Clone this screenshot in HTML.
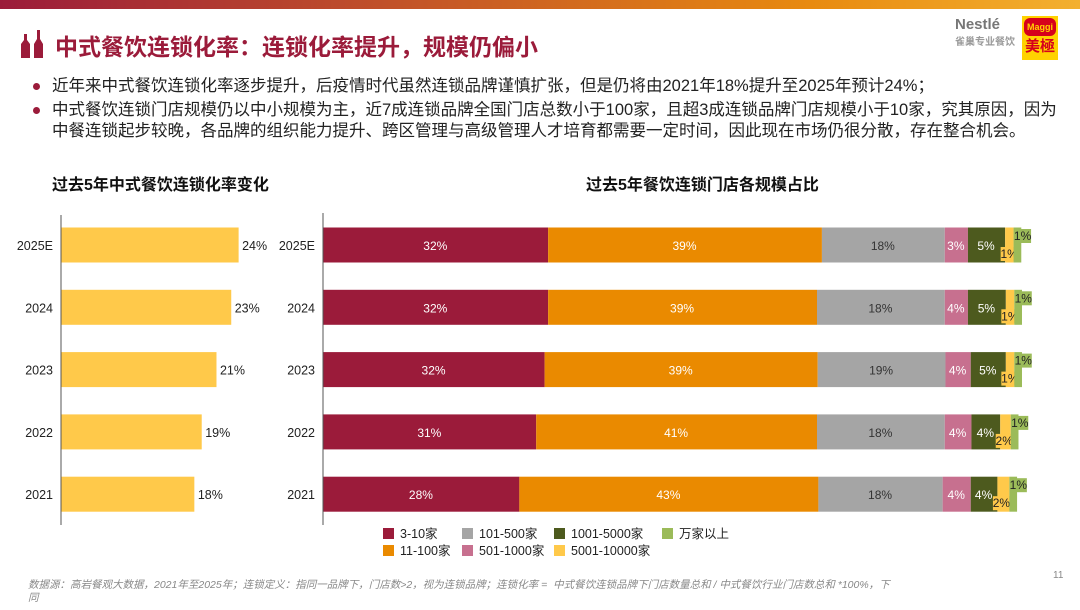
<!DOCTYPE html>
<html><head><meta charset="utf-8">
<style>
body{margin:0;width:1080px;height:610px;background:#fff;position:relative;overflow:hidden;font-family:"Liberation Sans","Noto Sans CJK SC",sans-serif;}
.topbar{position:absolute;left:0;top:0;width:1080px;height:9px;background:linear-gradient(90deg,#9b1b3a,#c0502a 35%,#e88a10 75%,#f3b030);}
.title{position:absolute;left:55px;top:28px;font-size:23px;font-weight:bold;color:#9b1b3a;}
.bullets{position:absolute;left:30px;top:76px;width:1040px;font-size:16.5px;color:#222;line-height:21px;}
.bullets div{position:relative;padding-left:22px;margin-bottom:3px;}
.bullets div:before{content:"";position:absolute;left:3px;top:7px;width:7px;height:7px;border-radius:50%;background:#9b1b3a;}
.ct{position:absolute;font-size:16px;font-weight:bold;color:#111;}
.foot{position:absolute;left:28px;top:579px;width:862px;font-size:10.5px;color:#888;font-style:italic;line-height:13px;}
</style></head><body>
<div class="topbar"></div>
<svg style="position:absolute;left:20px;top:28px" width="30" height="30">
<path d="M4 6h3v6l3 4v14H1V16l3-4z" fill="#9b1b3a"/><path d="M17 2h3v9l3 5v14h-9V16l3-5z" fill="#9b1b3a"/></svg>
<div class="title">中式餐饮连锁化率：连锁化率提升，规模仍偏小</div>
<div style="position:absolute;left:955px;top:16px;width:62px;height:50px;font-size:15px;color:#777;font-weight:bold">Nestlé<div style="font-size:10px;color:#999">雀巢专业餐饮</div></div>
<div style="position:absolute;left:1022px;top:16px;width:36px;height:44px;background:#ffd200;color:#d6001c;font-weight:bold;font-size:15px;text-align:center;line-height:18px"><div style="background:#d6001c;color:#ffd200;font-size:9px;border-radius:6px;margin:2px">Maggi</div>美極</div>
<div class="bullets">
<div>近年来中式餐饮连锁化率逐步提升，后疫情时代虽然连锁品牌谨慎扩张，但是仍将由2021年18%提升至2025年预计24%；</div>
<div>中式餐饮连锁门店规模仍以中小规模为主，近7成连锁品牌全国门店总数小于100家，且超3成连锁品牌门店规模小于10家，究其原因，因为中餐连锁起步较晚，各品牌的组织能力提升、跨区管理与高级管理人才培育都需要一定时间，因此现在市场仍很分散，存在整合机会。</div>
</div>
<div class="ct" style="left:52px;top:171px">过去5年中式餐饮连锁化率变化</div>
<div class="ct" style="left:586px;top:171px">过去5年餐饮连锁门店各规模占比</div>
<svg id="chart" style="position:absolute;left:0;top:0" width="1080" height="610"></svg>
<div class="foot">数据源：高岩餐观大数据，2021年至2025年；连锁定义：指同一品牌下，门店数&gt;2，视为连锁品牌；连锁化率 = &nbsp;中式餐饮连锁品牌下门店数量总和 / 中式餐饮行业门店数总和 *100%，下同</div>
<div style="position:absolute;left:1053px;top:570px;font-size:10px;color:#888">11</div>
<script>
const years=["2025E","2024","2023","2022","2021"];
const chainRate=[24,23,21,19,18];
const seriesNames=["3-10家","11-100家","101-500家","501-1000家","1001-5000家","5001-10000家","万家以上"];
const s1=[32.0,32.0,31.5,30.3,27.9];
const s2=[39.0,38.3,38.9,40.0,42.6];
const s3=[17.5,18.2,18.2,18.2,17.7];
const s4=[3.3,3.3,3.6,3.8,4.0];
const s5=[5.3,5.4,5.0,4.1,3.8];
const s6=[1.2,1.2,1.2,1.5,1.7];
const s7=[1.1,1.1,1.1,1.1,1.1];
const labels1=["32%","32%","32%","31%","28%"];
const labels2=["39%","39%","39%","41%","43%"];
const labels3=["18%","18%","19%","18%","18%"];
const labels4=["3%","4%","4%","4%","4%"];
const labels5=["5%","5%","5%","4%","4%"];
const labels6=["1%","1%","1%","2%","2%"];
const labels7=["1%","1%","1%","1%","1%"];
const colors=["#9b1b3a","#ea8a00","#a5a5a5","#c7708f","#4d5a1e","#ffc94a","#9bbb59"];
const svg=document.getElementById('chart');const NS="http://www.w3.org/2000/svg";
function mk(t,a,txt){const e=document.createElementNS(NS,t);for(const k in a)e.setAttribute(k,a[k]);if(txt!==undefined)e.textContent=txt;svg.appendChild(e);return e;}
const yC=i=>245+i*62.3;const bh=35;
const lx0=61,lsc=7.38;const lx=v=>lx0+v*lsc;
let ax=mk('line',{x1:lx0,y1:215,x2:lx0,y2:525,stroke:'#555','stroke-width':1});

years.forEach((y,i)=>{
 let r=mk('rect',{x:lx0+0.5,y:yC(i)-bh/2,width:lx(chainRate[i])-lx0,height:bh,fill:'#ffc94a'});
 
 let t=mk('text',{x:lx(chainRate[i])+4,y:yC(i)+5,'font-size':12.5,fill:'#222'},chainRate[i]+'%');
 
 let c=mk('text',{x:53,y:yC(i)+5,'font-size':12.5,fill:'#222','text-anchor':'end'},y);
 
});
const rx0=323,rsc=7.02;const rx=v=>rx0+v*rsc;
ax=mk('line',{x1:rx0,y1:213,x2:rx0,y2:525,stroke:'#555','stroke-width':1});

const series=[s1,s2,s3,s4,s5,s6,s7];const labs=[labels1,labels2,labels3,labels4,labels5,labels6,labels7];
years.forEach((y,i)=>{
 let c=mk('text',{x:315,y:yC(i)+5,'font-size':12.5,fill:'#222','text-anchor':'end'},y);
 
 let acc=0;
 series.forEach((s,k)=>{
  const x=rx(acc),w=s[i]*rsc;acc+=s[i];
  let r=mk('rect',{x:x+0.5,y:yC(i)-bh/2,width:w,height:bh,fill:colors[k]});
  
  if(k<5){
   let t=mk('text',{x:x+w/2,y:yC(i)+5,'font-size':12,fill:k==2?'#333':'#fff','text-anchor':'middle'},labs[k][i]);
   
  }else{
   const bx=k==5?x-4:x+1,by=k==5?yC(i)+2:yC(i)-16;
   let b=mk('rect',{x:bx,y:by,width:17,height:14,fill:colors[k]});
   
   let t=mk('text',{x:bx+8.5,y:by+11,'font-size':12,fill:'#222','text-anchor':'middle'},labs[k][i]);
   
  }
 });
});
const lgx=[383,462,554,662],lgy=[528,545];
const order=[[0,0,0],[1,0,1],[2,1,0],[3,1,1],[4,2,0],[5,2,1],[6,3,0]];
order.forEach(([k,c,r])=>{
 let sq=mk('rect',{x:lgx[c],y:lgy[r],width:11,height:11,fill:colors[k]});
 
 let t=mk('text',{x:lgx[c]+17,y:lgy[r]+10,'font-size':12.5,fill:'#222'},seriesNames[k]);
 
});
</script>
</body></html>
